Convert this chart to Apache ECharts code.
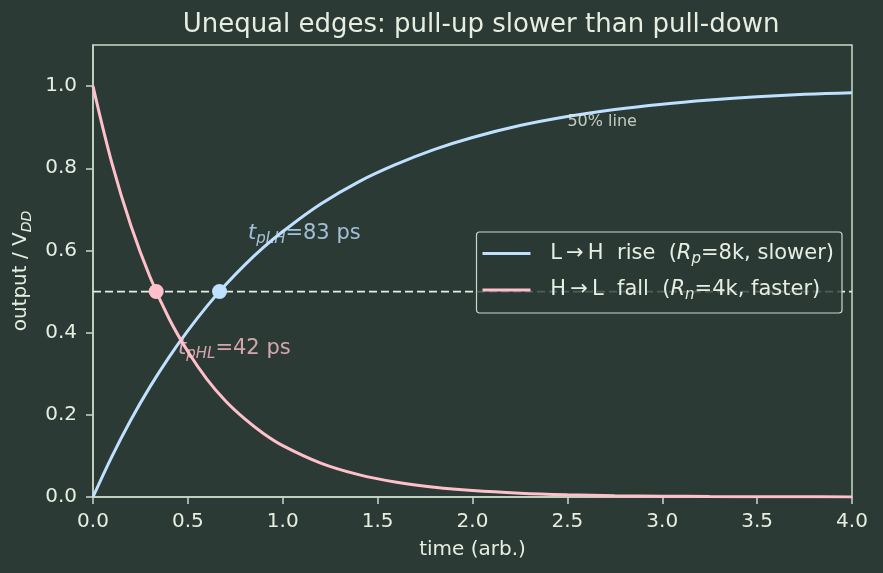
<!DOCTYPE html>
<html><head><meta charset="utf-8">
<script src="https://cdn.jsdelivr.net/npm/echarts@6/dist/echarts.min.js"></script>
<style>html,body{margin:0;padding:0;background:#2b3a34}#c{width:883px;height:573px}</style>
</head><body><div id="c"></div>
<script>
// time samples (arb.)
const timeValues = [0,0.1,0.2,0.3,0.4,0.5,0.6,0.7,0.8,0.9,1.0,1.2,1.4,1.6,1.8,2.0,2.25,2.5,2.75,3.0,3.25,3.5,3.75,4.0];
// L->H rise
const riseValues = [0,0.099,0.188,0.268,0.340,0.405,0.464,0.517,0.565,0.608,0.646,0.713,0.767,0.810,0.846,0.875,0.904,0.926,0.943,0.956,0.966,0.974,0.980,0.984];
// H->L fall
const fallValues = [1,0.812,0.660,0.536,0.435,0.354,0.287,0.233,0.190,0.154,0.125,0.0825,0.0544,0.0359,0.0237,0.0156,0.0093,0.0055,0.0033,0.0020,0.0012,0.0007,0.0004,0.0002];
// 50% crossing points
const riseCross = [0.667, 0.5];
const fallCross = [0.333, 0.5];
const halfLine = [[0, 0.5], [4, 0.5]];
const xTicks = [0,0.5,1.0,1.5,2.0,2.5,3.0,3.5,4.0];
const yTicks = [0,0.2,0.4,0.6,0.8,1.0];
// annotation anchors (data coords)
const plhAnchor = [0.817, 0.642];
const phlAnchor = [0.448, 0.362];
const halfLabelAnchor = [2.50, 0.912];

const BG = '#2b3a34', FG = '#e6eee2', AX = '#c9d9c9';
const RISE = '#bfe1ff', FALL = '#ffc0cb';
const FONT = 'DejaVu Sans';
const FS = 20;

const chart = echarts.init(document.getElementById('c'), null, {renderer: 'canvas'});
const zip = (xs, ys) => xs.map((x, i) => [x, ys[i]]);
const richSet = (c, fs) => ({
  n: {fontFamily: FONT, fontSize: fs, color: c, lineHeight: 26},
  i: {fontFamily: FONT, fontSize: fs, fontStyle: 'italic', color: c, lineHeight: 26},
  s: {fontFamily: FONT, fontSize: Math.round(fs * 0.7), fontStyle: 'italic', color: c, verticalAlign: 'bottom', lineHeight: 14}
});

chart.setOption({
  backgroundColor: BG,
  animation: false,
  textStyle: {fontFamily: FONT, color: FG},
  title: {
    text: 'Unequal edges: pull-up slower than pull-down',
    left: 476, textAlign: 'center', top: 7,
    textStyle: {fontFamily: FONT, fontSize: 26, fontWeight: 'normal', color: FG}
  },
  grid: {left: 93, right: 31, top: 45, bottom: 76, show: true, borderColor: AX, borderWidth: 1.5, backgroundColor: 'transparent'},
  xAxis: {
    type: 'value', min: 0, max: 4, interval: 0.5,
    name: 'time (arb.)', nameLocation: 'middle', nameGap: 43,
    nameTextStyle: {fontFamily: FONT, fontSize: FS, color: FG},
    axisLine: {lineStyle: {color: AX, width: 1.5}},
    axisTick: {show: true, inside: false, length: 7, lineStyle: {color: AX, width: 1.5}, customValues: xTicks},
    axisLabel: {customValues: xTicks, formatter: v => v.toFixed(1), fontFamily: FONT, fontSize: FS, color: FG, margin: 15},
    splitLine: {show: false}
  },
  yAxis: {
    type: 'value', min: 0, max: 1.1,
    name: '{n|output / V}{s|DD}', nameLocation: 'middle', nameGap: 51, nameRotate: 90,
    nameTextStyle: {fontFamily: FONT, fontSize: FS, color: FG, rich: richSet(FG, FS)},
    axisLine: {show: true, lineStyle: {color: AX, width: 1.5}},
    axisTick: {show: true, inside: false, length: 7, lineStyle: {color: AX, width: 1.5}, customValues: yTicks},
    axisLabel: {customValues: yTicks, formatter: v => v.toFixed(1), fontFamily: FONT, fontSize: FS, color: FG, margin: 16},
    splitLine: {show: false}
  },
  legend: {
    data: [{name: 'rise', icon: 'rect'}, {name: 'fall', icon: 'rect'}],
    right: 41, top: 232,
    orient: 'vertical',
    itemWidth: 48, itemHeight: 3, itemGap: 13,
    padding: [11, 8, 10, 6],
    backgroundColor: 'rgba(43,58,52,0.8)',
    borderColor: AX, borderWidth: 1.2, borderRadius: 3,
    textStyle: {fontFamily: FONT, fontSize: 21, color: FG, padding: [0, 0, 0, 8], rich: richSet(FG, 21)},
    formatter: name => name === 'rise'
      ? '{n| L\u2009\u2192\u2009H  rise  (}{i|R}{s|p}{n|=8k, slower)}'
      : '{n| H\u2009\u2192\u2009L  fall  (}{i|R}{s|n}{n|=4k, faster)}'
  },
  series: [
    {name: 'half', type: 'line', data: halfLine, symbol: 'none', silent: true,
     lineStyle: {color: '#e6eee2', width: 1.8, type: [8, 4]}, z: 1},
    {name: 'rise', type: 'line', data: zip(timeValues, riseValues), smooth: 0.4, symbol: 'none',
     lineStyle: {color: RISE, width: 3}, itemStyle: {color: RISE}, z: 3},
    {name: 'fall', type: 'line', data: zip(timeValues, fallValues), smooth: 0.4, symbol: 'none',
     lineStyle: {color: FALL, width: 3}, itemStyle: {color: FALL}, z: 3},
    {name: 'riseX', type: 'scatter', data: [riseCross], symbol: 'circle', symbolSize: 15,
     itemStyle: {color: RISE, opacity: 1}, z: 5},
    {name: 'fallX', type: 'scatter', data: [fallCross], symbol: 'circle', symbolSize: 15,
     itemStyle: {color: FALL, opacity: 1}, z: 5},
    {name: 'notes', type: 'scatter', symbolSize: 0, z: 6, silent: true,
     data: [
       {value: plhAnchor, label: {show: true, position: 'right', distance: 0,
         formatter: '{i|t}{s|pLH}{n|=83 ps}', rich: richSet(RISE, 21)}},
       {value: phlAnchor, label: {show: true, position: 'right', distance: 0,
         formatter: '{i|t}{s|pHL}{n|=42 ps}', rich: richSet(FALL, 21)}},
       {value: halfLabelAnchor, label: {show: true, position: 'right', distance: 0,
         formatter: '50% line', fontFamily: FONT, fontSize: 16, color: FG}}
     ]}
  ]
});
</script></body></html>
